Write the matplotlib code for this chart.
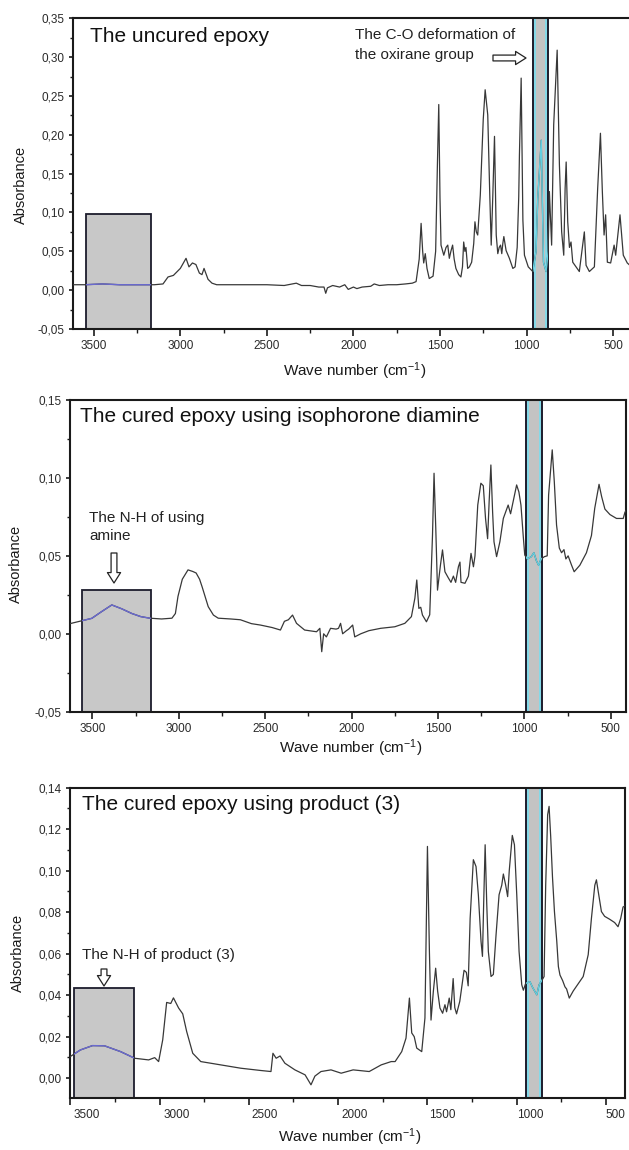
import matplotlib
matplotlib.use("Agg")
import matplotlib.pyplot as plt
from matplotlib.patches import Rectangle
from matplotlib.ticker import FixedLocator, MultipleLocator, FuncFormatter
from matplotlib.transforms import ScaledTranslation

plt.rcParams['font.family'] = ['Liberation Sans', 'DejaVu Sans']
plt.rcParams['mathtext.fontset'] = 'custom'
plt.rcParams['mathtext.rm'] = 'Liberation Sans'
plt.rcParams['mathtext.it'] = 'Liberation Sans:italic'
plt.rcParams['mathtext.bf'] = 'Liberation Sans:bold'

# ---------------- data ----------------
titles = ["The uncured epoxy",
          "The cured epoxy using isophorone diamine",
          "The cured epoxy using product (3)"]
x_label = r"Wave number (cm$^{-1}$)"
y_label = "Absorbance"
x_ticks = [3500, 3000, 2500, 2000, 1500, 1000, 500]

uncured_wn = [3620, 3550, 3450, 3350, 3250, 3150, 3100, 3071, 3040, 3000, 2967, 2950, 2930, 2910,
              2890, 2875, 2863, 2840, 2817, 2790, 2700, 2600, 2500, 2400, 2330, 2300, 2250, 2200,
              2170, 2160, 2150, 2120, 2080, 2050, 2030, 2000, 1980, 1950, 1900, 1880, 1850, 1800,
              1750, 1700, 1660, 1638, 1620, 1609, 1600, 1594, 1585, 1575, 1562, 1540, 1525, 1515,
              1507, 1500, 1494, 1478, 1465, 1455, 1446, 1437, 1427, 1418, 1408, 1392, 1379, 1370,
              1363, 1356, 1350, 1340, 1330, 1317, 1305, 1298, 1290, 1282, 1267, 1250, 1239, 1224,
              1212, 1204, 1195, 1185, 1175, 1166, 1158, 1150, 1143, 1137, 1131, 1118, 1099, 1079,
              1066, 1054, 1045, 1041, 1031, 1021, 1012, 990, 964, 945, 935, 915, 902, 887, 875,
              868, 855, 843, 823, 810, 797, 785, 777, 771, 762, 752, 743, 733, 714, 695, 676, 666,
              656, 637, 608, 589, 573, 562, 552, 543, 533, 514, 494, 485, 460, 441, 418, 408]
uncured_abs = [0.007, 0.007, 0.008, 0.007, 0.007, 0.007, 0.008, 0.017, 0.019, 0.028, 0.041, 0.030,
               0.035, 0.033, 0.022, 0.020, 0.028, 0.014, 0.009, 0.007, 0.007, 0.007, 0.007, 0.006,
               0.009, 0.006, 0.006, 0.004, 0.004, -0.004, 0.003, 0.006, 0.004, 0.007, 0.001, 0.004,
               0.002, 0.004, 0.005, 0.008, 0.006, 0.007, 0.007, 0.008, 0.009, 0.011, 0.040, 0.086,
               0.050, 0.035, 0.047, 0.028, 0.015, 0.018, 0.050, 0.160, 0.239, 0.120, 0.058, 0.045,
               0.055, 0.058, 0.041, 0.050, 0.058, 0.040, 0.028, 0.020, 0.017, 0.030, 0.062, 0.050,
               0.055, 0.028, 0.030, 0.036, 0.060, 0.088, 0.075, 0.071, 0.1225, 0.220, 0.258, 0.2255,
               0.120, 0.058, 0.120, 0.198, 0.071, 0.047, 0.055, 0.058, 0.047, 0.060, 0.069, 0.051,
               0.041, 0.028, 0.030, 0.055, 0.120, 0.174, 0.273, 0.090, 0.045, 0.030, 0.024, 0.050,
               0.118, 0.193, 0.036, 0.024, 0.050, 0.127, 0.058, 0.213, 0.309, 0.161, 0.075, 0.045,
               0.131, 0.165, 0.088, 0.055, 0.062, 0.036, 0.030, 0.024, 0.058, 0.075, 0.032, 0.024,
               0.030, 0.131, 0.202, 0.127, 0.071, 0.097, 0.036, 0.035, 0.058, 0.045, 0.097, 0.045,
               0.035, 0.033]

ipda_wn = [3630, 3504, 3450, 3388, 3330, 3272, 3220, 3168, 3100, 3040, 3020, 3005, 2980, 2947, 2920,
           2900, 2880, 2865, 2830, 2800, 2772, 2700, 2644, 2580, 2528, 2460, 2412, 2389, 2366, 2342,
           2319, 2272, 2203, 2184, 2173, 2162, 2146, 2122, 2090, 2076, 2064, 2052, 2030, 2017, 1994,
           1982, 1947, 1900, 1832, 1750, 1692, 1654, 1634, 1623, 1611, 1600, 1590, 1567, 1548, 1532,
           1523, 1513, 1503, 1486, 1474, 1460, 1441, 1425, 1411, 1398, 1382, 1373, 1367, 1344, 1324,
           1309, 1295, 1286, 1270, 1252, 1238, 1225, 1213, 1204, 1194, 1184, 1176, 1161, 1142, 1122,
           1094, 1080, 1065, 1045, 1032, 1020, 1007, 998, 983, 960, 945, 931, 918, 903, 884, 868,
           860, 839, 827, 814, 798, 785, 771, 760, 747, 727, 712, 679, 641, 612, 593, 568, 553, 534,
           505, 467, 428, 418, 412]
ipda_abs = [0.0065, 0.0099, 0.014, 0.0185, 0.016, 0.013, 0.011, 0.010, 0.0095, 0.010, 0.013, 0.024,
            0.035, 0.041, 0.040, 0.039, 0.035, 0.030, 0.0174, 0.012, 0.010, 0.0095, 0.009, 0.0065,
            0.0056, 0.004, 0.0024, 0.008, 0.009, 0.012, 0.0067, 0.0024, 0.0013, 0.0035, -0.0115,
            0.0, -0.002, 0.0035, 0.003, 0.0035, 0.0067, 0.0, 0.002, 0.003, 0.0056, -0.002, 0.0,
            0.002, 0.0035, 0.0045, 0.0067, 0.011, 0.0228, 0.0345, 0.0163, 0.017, 0.012, 0.0077,
            0.0122, 0.063, 0.103, 0.0677, 0.028, 0.044, 0.0538, 0.0398, 0.036, 0.033, 0.037, 0.033,
            0.043, 0.046, 0.033, 0.0324, 0.037, 0.0516, 0.043, 0.050, 0.0826, 0.0966, 0.095, 0.074,
            0.061, 0.085, 0.1083, 0.078, 0.059, 0.0495, 0.059, 0.074, 0.0826, 0.077, 0.085, 0.0955,
            0.091, 0.0826, 0.063, 0.0505, 0.048, 0.0495, 0.052, 0.047, 0.044, 0.048, 0.0495, 0.050,
            0.089, 0.118, 0.0976, 0.0698, 0.055, 0.052, 0.054, 0.048, 0.050, 0.044, 0.0398, 0.044,
            0.052, 0.063, 0.0805, 0.0959, 0.088, 0.080, 0.0765, 0.074, 0.074, 0.078, 0.079]

prod3_wn = [3500, 3443, 3375, 3308, 3218, 3139, 3061, 3027, 3005, 2982, 2960, 2937, 2922, 2893, 2870,
            2848, 2814, 2769, 2657, 2545, 2433, 2376, 2365, 2347, 2325, 2298, 2242, 2185, 2152, 2130,
            2096, 2040, 1983, 1916, 1826, 1759, 1703, 1681, 1644, 1620, 1601, 1588, 1574, 1560, 1532,
            1514, 1500, 1489, 1480, 1467, 1454, 1443, 1430, 1415, 1402, 1393, 1378, 1369, 1356, 1347,
            1337, 1319, 1295, 1282, 1272, 1261, 1243, 1228, 1215, 1200, 1192, 1185, 1177, 1168, 1159,
            1144, 1131, 1116, 1099, 1084, 1075, 1062, 1051, 1042, 1025, 1013, 1000, 987, 972, 963,
            950, 926, 913, 888, 875, 860, 847, 838, 827, 819, 810, 800, 789, 776, 767, 758, 743, 730,
            721, 706, 684, 660, 628, 600, 582, 563, 554, 541, 526, 508, 480, 452, 433, 418, 405, 394]
prod3_abs = [0.0104, 0.0136, 0.0157, 0.0156, 0.0128, 0.0096, 0.0088, 0.0099, 0.008, 0.0185, 0.0365,
             0.036, 0.0387, 0.0338, 0.031, 0.0225, 0.012, 0.008, 0.0064, 0.0048, 0.0037, 0.0032,
             0.012, 0.0096, 0.0107, 0.0072, 0.004, 0.0016, -0.0032, 0.001, 0.0032, 0.004, 0.0024,
             0.004, 0.0032, 0.0064, 0.008, 0.008, 0.0128, 0.0193, 0.0386, 0.0218, 0.020, 0.0145,
             0.0128, 0.029, 0.1117, 0.061, 0.028, 0.0418, 0.053, 0.042, 0.0338, 0.0313, 0.0354,
             0.032, 0.0386, 0.033, 0.048, 0.034, 0.031, 0.037, 0.052, 0.051, 0.0445, 0.077, 0.1053,
             0.102, 0.0884, 0.0659, 0.0587, 0.085, 0.1125, 0.084, 0.061, 0.049, 0.050, 0.069, 0.0884,
             0.093, 0.0984, 0.093, 0.0875, 0.100, 0.117, 0.1125, 0.0884, 0.061, 0.045, 0.0424,
             0.0457, 0.0465, 0.044, 0.0402, 0.045, 0.047, 0.049, 0.093, 0.127, 0.131, 0.1165, 0.097,
             0.0803, 0.066, 0.0538, 0.0497, 0.047, 0.044, 0.043, 0.0386, 0.042, 0.045, 0.049, 0.0595,
             0.077, 0.093, 0.0956, 0.0884, 0.0803, 0.078, 0.0766, 0.075, 0.073, 0.077, 0.0825, 0.083]

# ---------------- layout ----------------
W, H = 629, 1150
fig = plt.figure(figsize=(W / 100, H / 100), dpi=100)

def px_axes(left, top, right, bottom):
    return fig.add_axes([left / W, 1 - bottom / H, (right - left) / W, (bottom - top) / H])

def ftext(x, y, s, **kw):
    return fig.text(x / W, 1 - y / H, s, **kw)

def hollow_arrow(x0, y0, x1, y1):
    fig.add_artist(matplotlib.patches.FancyArrowPatch(
        (x0, H - y0), (x1, H - y1), transform=None,
        arrowstyle="simple,head_length=0.75,head_width=0.95,tail_width=0.42",
        mutation_scale=10, fc="white", ec="#222222", lw=0.9, shrinkA=0, shrinkB=0))

panels = [
    dict(rect=(73, 18.3, 629, 329), wn=uncured_wn, ab=uncured_abs, xlim=(3620, 408),
         ylim=(-0.05, 0.35), ymaj=0.05, ymin=0.025, box=(3544, 3168, 0.098), band=(964, 874),
         right=False, shift=None),
    dict(rect=(70, 400, 626, 711.7), wn=ipda_wn, ab=ipda_abs, xlim=(3630, 412),
         ylim=(-0.05, 0.15), ymaj=0.05, ymin=0.025, box=(3562, 3163, 0.028), band=(993, 900),
         right=True, shift=None),
    dict(rect=(70.2, 787.7, 625, 1098.3), wn=prod3_wn, ab=prod3_abs, xlim=(3500, 394),
         ylim=(-0.0097, 0.14), ymaj=0.02, ymin=0.01, box=(3477, 3142, 0.0434), band=(950, 857),
         right=True, shift=[17, 17, 16, 16, 15, 14, 9]),
]

line_col = "#383838"
edge_col = "#1c1c2c"
fmt = FuncFormatter(lambda v, p: ("%.2f" % v).replace(".", ",").replace("-0,00", "0,00"))

for p in panels:
    ax = px_axes(*p["rect"])
    ax.set_xlim(*p["xlim"])
    ax.set_ylim(*p["ylim"])
    # highlighted regions
    b0, b1, btop = p["box"]
    box = Rectangle((b1, p["ylim"][0]), b0 - b1, btop - p["ylim"][0], fc="#c8c8c8",
                    ec=edge_col, lw=1.3, zorder=1)
    ax.add_patch(box)
    w0, w1 = p["band"]
    band = Rectangle((w1, p["ylim"][0] - 1), w0 - w1, 3, fc="#c3c3c3", ec=edge_col,
                     lw=1.4, zorder=1)
    ax.add_patch(band)
    inset = (w0 - w1) * 0.12
    ax.add_patch(Rectangle((w1 + inset, p["ylim"][0] - 1), w0 - w1 - 2 * inset, 3, fc="none",
                           ec="#7fdcec", lw=1.3, zorder=1.5))
    # spectrum
    ax.plot(p["wn"], p["ab"], color=line_col, lw=0.9, zorder=3)
    l2, = ax.plot(p["wn"], p["ab"], color="#63cfe0", lw=1.0, zorder=3.5)
    l2.set_clip_path(band)
    l3, = ax.plot(p["wn"], p["ab"], color="#6a6ad0", lw=1.0, zorder=3.5)
    l3.set_clip_path(box)
    # axes style
    for s in ax.spines.values():
        s.set_linewidth(1.5)
        s.set_color("#1a1a1a")
    ax.spines["right"].set_visible(p["right"])
    ax.xaxis.set_major_locator(FixedLocator(x_ticks))
    ax.xaxis.set_minor_locator(MultipleLocator(250))
    ax.yaxis.set_major_locator(MultipleLocator(p["ymaj"]))
    ax.yaxis.set_minor_locator(MultipleLocator(p["ymin"]))
    ax.yaxis.set_major_formatter(fmt)
    ax.tick_params(which="major", direction="out", length=5, width=1.2, labelsize=8.5,
                   pad=3, colors="#1a1a1a", labelcolor="#2a2a2a")
    ax.tick_params(which="minor", direction="out", length=3, width=1.0, colors="#1a1a1a")
    ax.tick_params(axis="y", which="major", length=3)
    ax.tick_params(axis="y", which="minor", length=2)
    ax.tick_params(right=False, top=False, which="both")
    if p["shift"]:
        for lab, dx in zip(ax.get_xticklabels(), p["shift"]):
            off = ScaledTranslation(dx / 100, 0, fig.dpi_scale_trans)
            lab.set_transform(lab.get_transform() + off)

# panel titles
ftext(90, 36, titles[0], fontsize=15, va="center", ha="left", color="#111111")
ftext(80, 416, titles[1], fontsize=15, va="center", ha="left", color="#111111")
ftext(82, 805, titles[2], fontsize=15, va="center", ha="left", color="#111111")

# annotations
ftext(355, 35, "The C-O deformation of", fontsize=11, va="center", ha="left", color="#222222")
ftext(355, 55, "the oxirane group", fontsize=11, va="center", ha="left", color="#222222")
hollow_arrow(493, 58, 526, 58)

ftext(89, 518, "The N-H of using", fontsize=11, va="center", ha="left", color="#222222")
ftext(89, 536, "amine", fontsize=11, va="center", ha="left", color="#222222")
hollow_arrow(114, 553, 114, 583)

ftext(82, 955, "The N-H of product (3)", fontsize=11, va="center", ha="left", color="#222222")
hollow_arrow(104, 969, 104, 986)

# axis labels
for (xx, yy) in [(355, 371), (351, 748), (350, 1137)]:
    ftext(xx, yy, x_label, fontsize=11, va="center", ha="center", color="#1a1a1a")
for (xx, yy) in [(21, 185), (16, 564), (18, 953)]:
    ftext(xx, yy, y_label, fontsize=10.5, va="center", ha="center", rotation=90,
          color="#1a1a1a")

fig.savefig("out.png", dpi=100)
